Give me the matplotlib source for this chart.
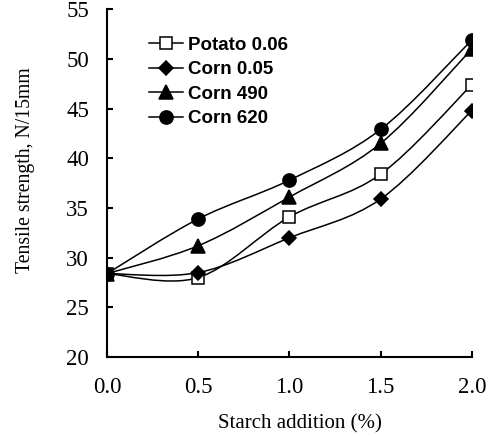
import numpy as np
import matplotlib.pyplot as plt
from matplotlib.path import Path
from matplotlib.patches import PathPatch
from matplotlib.lines import Line2D

# Data
starch = [0.0, 0.5, 1.0, 1.5, 2.0]
potato_006 = [28.4, 28.0, 34.1, 38.4, 47.4]
corn_005 = [28.4, 28.5, 32.0, 35.9, 44.8]
corn_490 = [28.4, 31.2, 36.1, 41.5, 51.0]
corn_620 = [28.4, 33.9, 37.8, 42.9, 51.9]

series = [
    ('Potato 0.06', potato_006, dict(marker='s', mfc='white', ms=8.5)),
    ('Corn 0.05', corn_005, dict(marker='D', mfc='black', ms=7)),
    ('Corn 490', corn_490, dict(marker='^', mfc='black', ms=10)),
    ('Corn 620', corn_620, dict(marker='o', mfc='black', ms=9.5)),
]


def smooth_path(x, y):
    # Excel-style smoothed line: cubic Bezier through the points
    pts = np.column_stack([x, y])
    n = len(pts)
    verts = [pts[0]]
    codes = [Path.MOVETO]
    for i in range(n - 1):
        p0 = pts[max(i - 1, 0)]
        p1 = pts[i]
        p2 = pts[i + 1]
        p3 = pts[min(i + 2, n - 1)]
        c1 = p1 + (p2 - p0) / 6.0
        c2 = p2 - (p3 - p1) / 6.0
        verts += [c1, c2, p2]
        codes += [Path.CURVE4] * 3
    return Path(verts, codes)


fig = plt.figure(figsize=(4.91, 4.36), dpi=100)
ax = fig.add_axes([0.218, 0.181, 0.743, 0.798])

handles = []
for label, vals, style in series:
    patch = PathPatch(smooth_path(starch, vals), facecolor='none',
                      edgecolor='black', lw=1.1, zorder=2)
    ax.add_patch(patch)
    ax.plot(starch, vals, linestyle='none', color='black', mec='black',
            mew=1.1, zorder=3, **style)
    handles.append(Line2D([], [], color='black', lw=1.1, mec='black',
                          mew=1.1, label=label, **style))

ax.set_xlim(0, 2.0)
ax.set_ylim(20, 55)
ax.set_xticks([0.0, 0.5, 1.0, 1.5, 2.0])
ax.set_xticklabels(['0.0', '0.5', '1.0', '1.5', '2.0'])
ax.set_yticks([20, 25, 30, 35, 40, 45, 50, 55])

ax.spines['top'].set_visible(False)
ax.spines['right'].set_visible(False)
ax.spines['left'].set_linewidth(1.5)
ax.spines['bottom'].set_linewidth(1.5)
ax.tick_params(direction='in', length=4.5, width=1.5)
ax.tick_params(axis='y', pad=13)
ax.tick_params(axis='x', pad=14)

for lab in ax.get_xticklabels() + ax.get_yticklabels():
    lab.set_fontfamily('Liberation Serif')
    lab.set_fontsize(16.5)

ax.set_xlabel('Starch addition (%)', fontfamily='Liberation Serif',
              fontsize=15, labelpad=10)
ax.xaxis.set_label_coords(0.53, -0.165)
ax.set_ylabel('Tensile strength, N/15mm', fontfamily='Liberation Serif',
              fontsize=14.2)
ax.yaxis.set_label_coords(-0.197, 0.537)

ax.legend(handles=handles, loc='upper left', bbox_to_anchor=(0.07, 0.97),
          frameon=False, handlelength=1.8, handletextpad=0.25,
          labelspacing=0.4, prop={'family': 'Liberation Sans',
                                  'size': 13.5, 'weight': 'bold'})

fig.savefig('out.png', dpi=100)
